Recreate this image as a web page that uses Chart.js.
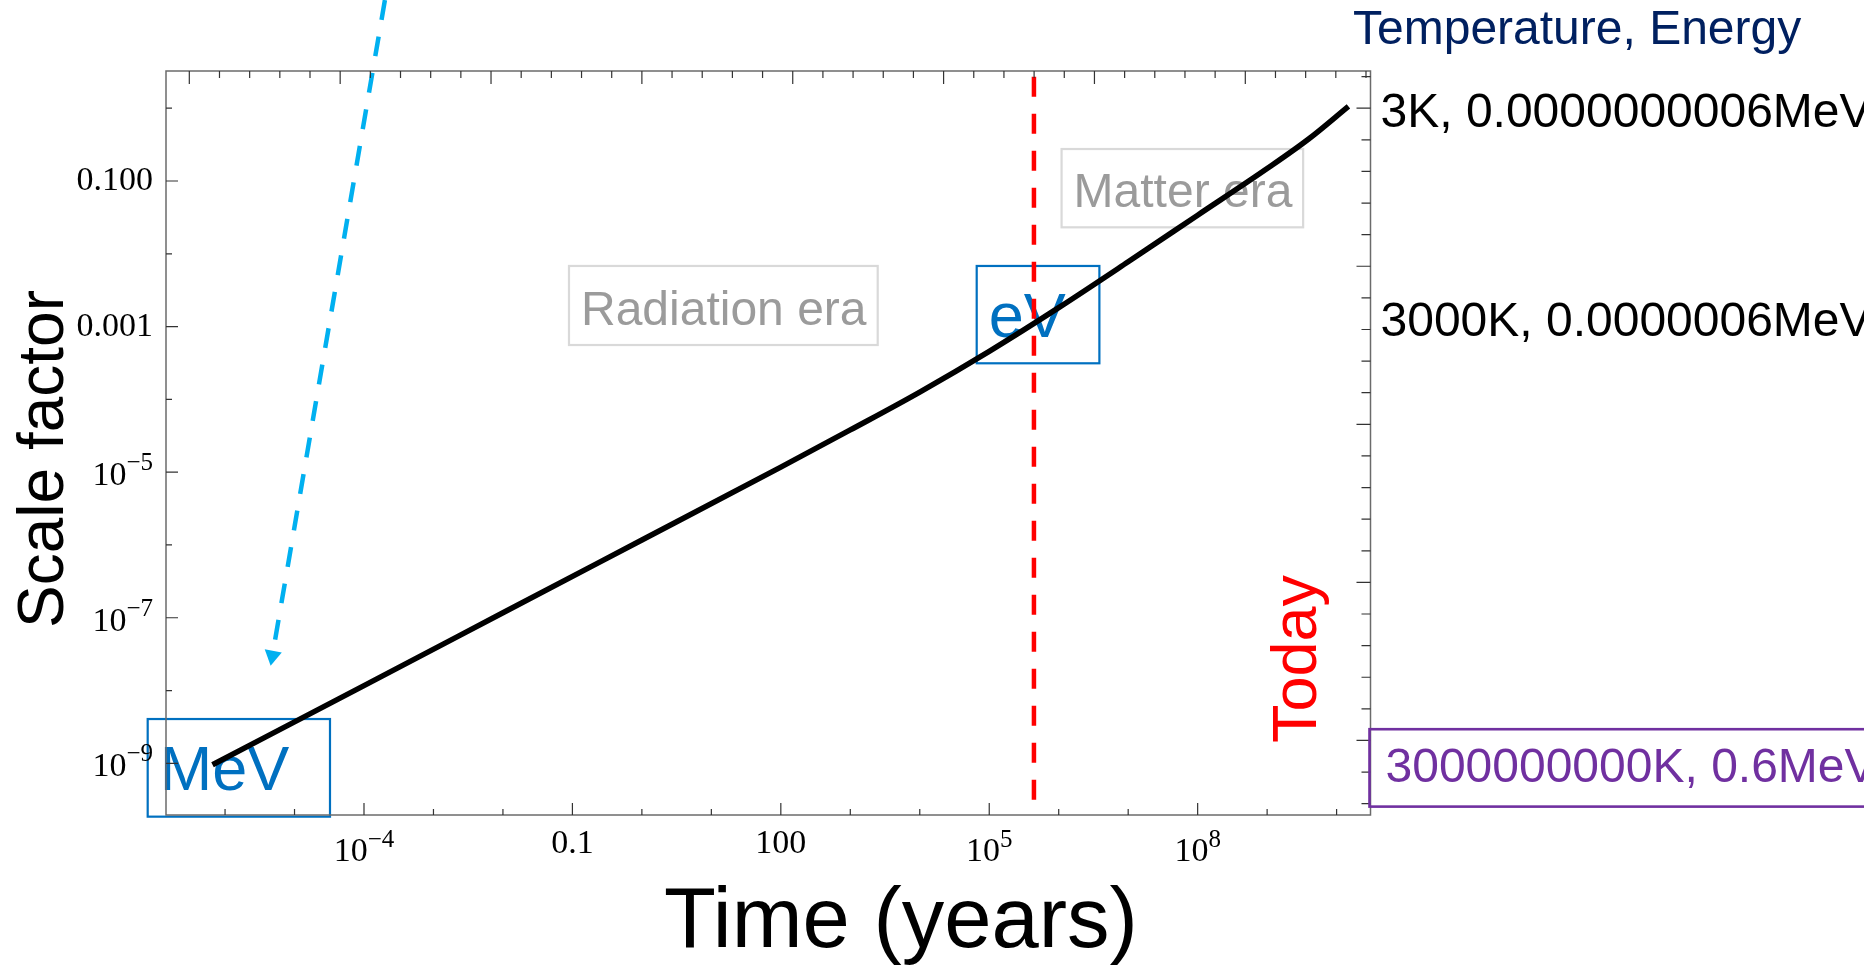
<!DOCTYPE html>
<html lang="en">
<head>
    <meta charset="UTF-8">
    <title>Scale factor vs time</title>
    <script src="https://cdn.jsdelivr.net/npm/chart.js"></script>
    <style>
        html, body { margin: 0; padding: 0; background: #fff; }
        #grafico { position: relative; width: 1864px; height: 973px; }
    </style>
</head>
<body>
    <div id="grafico">
        <canvas id="myChart"></canvas>
    </div>
<script>
    // scale factor a(t), time in years
    const timeYears   = [6.6e-7, 1e-4, 0.01, 1, 100, 1000, 1e4, 1e5, 1e6, 1e7, 1e8, 1e9, 4.0e9, 1.48e10];
    const scaleFactor = [9.55e-10, 1.17e-8, 1.17e-7, 1.17e-6, 1.17e-5, 3.8e-5, 1.26e-4, 4.57e-4, 1.82e-3, 7.76e-3, 0.0339, 0.148, 0.38, 1.06];

    // red "Today" marker: time and vertical span (scale factor)
    const todayYears = 4.4e5;
    const todaySpan = [2.7, 2.75e-10];

    // blue dashed arrow: tail -> head
    const arrowYears = [2.0e-4, 4.8e-6];
    const arrowScale = [30.6, 3.0e-8];

    // tick labels
    const xTickValues = [1e-4, 0.1, 100, 1e5, 1e8];
    const xTickBase   = ['10', '0.1', '100', '10', '10'];
    const xTickExp    = ['\u22124', '', '', '5', '8'];
    const yTickValues = [0.1, 0.001, 1e-5, 1e-7, 1e-9];
    const yTickBase   = ['0.100', '0.001', '10', '10', '10'];
    const yTickExp    = ['', '', '\u22125', '\u22127', '\u22129'];

    // temperature / energy at a given scale factor (right side)
    const tempLabels = ['3K, 0.0000000006MeV', '3000K, 0.0000006MeV', '3000000000K, 0.6MeV'];
    const tempScale  = [0.944, 1.27e-3, 9.6e-10];

    // boxed notes inside the plot (corners in time / scale factor)
    const notes = [
        { text: 'Radiation era', t: [0.0893, 2480], a: [6.8e-3, 5.58e-4], size: 48, color: '#9b9b9b', edge: '#d9d9d9' },
        { text: 'Matter era', t: [1.1e6, 3.3e9], a: [0.275, 0.0231], size: 48, color: '#9b9b9b', edge: '#d9d9d9' },
        { text: 'eV', t: [6.6e4, 3.85e6], a: [6.8e-3, 3.13e-4], size: 63, color: '#0070c0', edge: '#0070c0' },
        { text: 'MeV', t: [7.7e-8, 3.24e-5], a: [4.06e-9, 1.85e-10], size: 63, color: '#0070c0', edge: '#0070c0' }
    ];

    const SANS = '"Liberation Sans", Arial, sans-serif';
    const SERIF = '"Liberation Serif", "Times New Roman", serif';

    const decor = {
        id: 'decor',
        beforeDatasetsDraw(chart) {
            const { ctx, scales: { x, y } } = chart;
            ctx.save();
            notes.forEach(n => {
                const x0 = x.getPixelForValue(n.t[0]), x1 = x.getPixelForValue(n.t[1]);
                const y0 = y.getPixelForValue(n.a[0]), y1 = y.getPixelForValue(n.a[1]);
                ctx.strokeStyle = n.edge;
                ctx.lineWidth = 2.2;
                ctx.strokeRect(x0, y0, x1 - x0, y1 - y0);
                ctx.fillStyle = n.color;
                ctx.font = n.size + 'px ' + SANS;
                ctx.textAlign = 'left';
                ctx.textBaseline = 'alphabetic';
                ctx.fillText(n.text, x0 + 12, y1 - n.size * 0.42);
            });
            ctx.restore();
        },
        afterDraw(chart) {
            const { ctx, chartArea: ca, scales: { x, y } } = chart;
            ctx.save();

            // frame
            ctx.strokeStyle = '#6b6b6b';
            ctx.lineWidth = 1.5;
            ctx.strokeRect(ca.left, ca.top, ca.right - ca.left, ca.bottom - ca.top);

            // inward ticks
            ctx.strokeStyle = '#333';
            ctx.lineWidth = 1.2;
            ctx.beginPath();
            for (let e = -6; e <= 10; e++) {
                const px = x.getPixelForValue(10 ** e);
                const major = xTickValues.some(v => Math.abs(Math.log10(v) - e) < 1e-6);
                ctx.moveTo(px, ca.bottom);
                ctx.lineTo(px, ca.bottom - (major ? 12 : 6));
            }
            for (let e = -9; e <= 0; e++) {
                const py = y.getPixelForValue(10 ** e);
                const major = yTickValues.some(v => Math.abs(Math.log10(v) - e) < 1e-6);
                ctx.moveTo(ca.left, py);
                ctx.lineTo(ca.left + (major ? 12 : 6), py);
            }
            // top: ln(t), right: ln(a)
            for (let k = -15; k <= 24; k++) {
                const px = x.getPixelForValue(Math.exp(k));
                ctx.moveTo(px, ca.top);
                ctx.lineTo(px, ca.top + (k % 5 === 0 ? 13 : 7));
            }
            for (let k = -22; k <= 1; k++) {
                const py = y.getPixelForValue(Math.exp(k));
                ctx.moveTo(ca.right, py);
                ctx.lineTo(ca.right - (k % 5 === 0 ? 14 : 9), py);
            }
            ctx.stroke();

            // tick labels
            ctx.fillStyle = '#000';
            ctx.textBaseline = 'alphabetic';
            ctx.textAlign = 'left';
            xTickValues.forEach((v, i) => {
                const px = x.getPixelForValue(v);
                ctx.font = '34px ' + SERIF;
                const wb = ctx.measureText(xTickBase[i]).width;
                ctx.font = '25px ' + SERIF;
                const we = xTickExp[i] ? ctx.measureText(xTickExp[i]).width : 0;
                const left = px - (wb + we) / 2;
                ctx.font = '34px ' + SERIF;
                ctx.fillText(xTickBase[i], left, ca.bottom + (we ? 45.7 : 38.3));
                if (we) {
                    ctx.font = '25px ' + SERIF;
                    ctx.fillText(xTickExp[i], left + wb, ca.bottom + 31.7);
                }
            });
            yTickValues.forEach((v, i) => {
                const py = y.getPixelForValue(v);
                const right = ca.left - 13;
                ctx.font = '25px ' + SERIF;
                const we = yTickExp[i] ? ctx.measureText(yTickExp[i]).width : 0;
                ctx.font = '34px ' + SERIF;
                const wb = ctx.measureText(yTickBase[i]).width;
                ctx.fillText(yTickBase[i], right - we - wb, py + (we ? 13 : 9));
                if (we) {
                    ctx.font = '25px ' + SERIF;
                    ctx.fillText(yTickExp[i], right - we, py - 2);
                }
            });

            // axis titles
            ctx.font = '64px ' + SANS;
            ctx.textAlign = 'center';
            ctx.save();
            ctx.translate(ca.left - 103, 459);
            ctx.rotate(-Math.PI / 2);
            ctx.fillText('Scale factor', 0, 0);
            ctx.restore();
            ctx.font = '85px ' + SANS;
            ctx.fillText('Time (years)', 901, 947);

            // "Today"
            ctx.save();
            ctx.fillStyle = '#ff0000';
            ctx.font = '63px ' + SANS;
            ctx.textAlign = 'left';
            ctx.translate(x.getPixelForValue(5.0e9), y.getPixelForValue(1.9e-9));
            ctx.rotate(-Math.PI / 2);
            ctx.fillText('Today', 0, 0);
            ctx.restore();

            // temperature / energy column
            ctx.textAlign = 'left';
            ctx.font = '48px ' + SANS;
            ctx.fillStyle = '#002060';
            ctx.fillText('Temperature, Energy', 1353, 44);
            tempLabels.forEach((txt, i) => {
                const cy = y.getPixelForValue(tempScale[i]);
                const last = i === tempLabels.length - 1;
                ctx.fillStyle = last ? '#7030a0' : '#000';
                ctx.fillText(txt, ca.right + (last ? 15 : 10), cy + 17);
                if (last) {
                    ctx.strokeStyle = '#7030a0';
                    ctx.lineWidth = 2.6;
                    ctx.strokeRect(ca.right - 1, cy - 35.4, chart.width - ca.right + 4, 77.4);
                }
            });
            ctx.restore();
        }
    };

    const data = {
        datasets: [{
            label: 'Scale factor',
            data: timeYears.map((t, i) => ({ x: t, y: scaleFactor[i] })),
            borderColor: '#000',
            borderWidth: 5.5,
            pointRadius: 0,
            cubicInterpolationMode: 'monotone'
        }, {
            label: 'Today',
            data: todaySpan.map(a => ({ x: todayYears, y: a })),
            borderColor: '#ff0000',
            borderWidth: 4.5,
            borderDash: [20, 17],
            pointRadius: 0
        }, {
            label: 'Arrow',
            data: arrowYears.map((t, i) => ({ x: t, y: arrowScale[i] })),
            borderColor: '#00b0f0',
            borderWidth: 4.5,
            borderDash: [20, 17],
            pointRadius: [0, 10],
            pointStyle: 'triangle',
            pointRotation: 190,
            pointBackgroundColor: '#00b0f0',
            pointBorderWidth: 0,
            clip: false
        }]
    };

    const config = {
        type: 'line',
        data: data,
        options: {
            responsive: true,
            maintainAspectRatio: false,
            animation: false,
            events: [],
            layout: { padding: { left: 166, top: 71, right: 493.5, bottom: 158 } },
            plugins: { legend: { display: false }, tooltip: { enabled: false } },
            scales: {
                x: { type: 'logarithmic', min: 10 ** -6.85, max: 10 ** 10.488, display: false },
                y: { type: 'logarithmic', min: 10 ** -9.71, max: 10 ** 0.511, display: false }
            }
        },
        plugins: [decor]
    };

    const myChart = new Chart(document.getElementById('myChart'), config);
</script>
</body>
</html>
